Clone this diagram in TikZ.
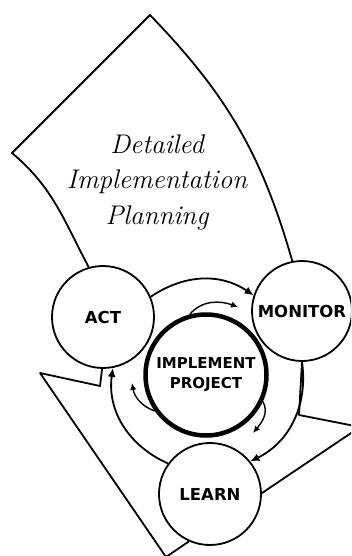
\documentclass[tikz,border=0pt]{standalone}
\usepackage{fontspec}
\setsansfont{DejaVu Sans}
\usetikzlibrary{arrows.meta}

\begin{document}
\begin{tikzpicture}[x=1pt, y=1pt, line join=round,
          stage/.style={circle, draw, line width=1.8pt, minimum size=102pt, inner sep=0pt, font=\sffamily\bfseries\fontsize{16.5}{19}\selectfont},
          hub/.style={circle, draw, line width=4.5pt, minimum size=121pt, inner sep=0pt, align=center, font=\sffamily\bfseries\fontsize{15}{20}\selectfont},
          ring/.style={line width=1.8pt, -{Latex[length=9pt, width=8pt]}},
          turn/.style={line width=1.4pt, -{Latex[length=7pt, width=6.5pt]}},
          band/.style={line width=1.8pt}]
          \useasboundingbox (0,0) rectangle (351,-556);
          \clip (0,0) rectangle (351,-556);
          % cycle
          \node[stage] (act) at (103,-317) {ACT};
          \node[stage, minimum size=100pt] (monitor) at (302,-311) {MONITOR};
          \node[stage] (learn) at (210,-494) {LEARN};
          \node[hub] (impl) at (206,-375) {IMPLEMENT\\PROJECT};
          \node[align=center, font=\itshape\fontsize{27}{35.5}\selectfont] (plan) at (157,-182) {Detailed\\Implementation\\Planning};
          % outline of the band
          \coordinate (tl) at (12,-153);
          \coordinate (tp) at (150,-15);
          \coordinate (rp) at (299,-415);
          \coordinate (rtip) at (360,-427);
          \coordinate (lp) at (100,-386);
          \coordinate (lw) at (40,-373);
          \coordinate (lbot) at (166,-557);
          \draw[band] (act.106) to[out=118, in=-40] (tl) -- (tp) to[out=-46, in=106] (monitor.101);
          \draw[band] (monitor.south) -- (rp) -- (rtip) -- (learn.1);
          \draw[band] (act.-91) -- (lp) -- (lw) -- (lbot) -- (learn.246);
          % ring
          \draw[ring] (act.23) to[out=34, in=146] (monitor.162);
          \draw[ring] (monitor.south) to[out=-82, in=26] (learn.39);
          \draw[ring] (learn.144) to[out=156, in=-98] (act.-79);
          % small turns round the hub
          \coordinate (ta) at (238,-307);
          \coordinate (tb) at (132,-383);
          \coordinate (tc) at (253,-433);
          \draw[turn] (impl.105) to[out=50, in=160] (ta);
          \draw[turn] (impl.215) to[out=160, in=-80] (tb);
          \draw[turn] (impl.-25) to[out=-60, in=50] (tc);
\end{tikzpicture}
\end{document}
